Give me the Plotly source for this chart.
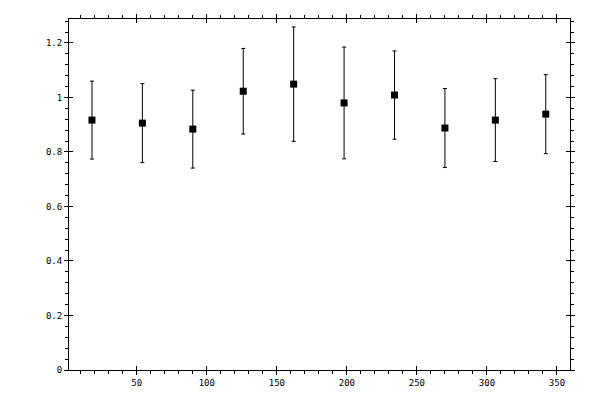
import plotly.graph_objects as go

# bin centres (deg) and measured ratio with symmetric errors
bin_centers = [18, 54, 90, 126, 162, 198, 234, 270, 306, 342]
ratio = [0.917, 0.906, 0.884, 1.023, 1.049, 0.980, 1.009, 0.888, 0.917, 0.939]
ratio_err = [0.143, 0.145, 0.143, 0.157, 0.210, 0.205, 0.162, 0.145, 0.152, 0.145]

X_RANGE = [1.6, 359.3]
Y_RANGE = [0, 1.288]
FONT = dict(family='DejaVu Sans Mono', size=9, color='black')

fig = go.Figure()
fig.add_trace(go.Scatter(
    x=bin_centers, y=ratio,
    mode='markers',
    marker=dict(symbol='square', size=7, color='black'),
    error_y=dict(type='data', array=ratio_err, color='black', thickness=1, width=2),
    showlegend=False,
))

# main axes: labels + outer half of ticks
axis_common = dict(
    showline=True, linecolor='black', linewidth=1, mirror='ticks',
    ticks='outside', ticklen=4, tickcolor='black', tickwidth=1,
    showgrid=False, zeroline=False, tickfont=FONT, automargin=False,
)
fig.update_xaxes(
    range=X_RANGE, tick0=0, dtick=50,
    minor=dict(ticks='outside', ticklen=3, tick0=0, dtick=10, tickcolor='black', showgrid=False),
    **axis_common,
)
fig.update_yaxes(
    range=Y_RANGE, tick0=0, dtick=0.2, tickformat='~g',
    minor=dict(ticks='outside', ticklen=3, tick0=0, dtick=0.04, tickcolor='black', showgrid=False),
    **axis_common,
)

# overlay axes: inner half of the major ticks
inner = dict(showline=False, showgrid=False, zeroline=False, showticklabels=False,
             ticks='inside', ticklen=4, tickcolor='black', tickwidth=1, mirror='ticks',
             automargin=False)
fig.update_layout(
    xaxis2=dict(overlaying='x', anchor='y', side='bottom', range=X_RANGE, tick0=0, dtick=50, **inner),
    yaxis2=dict(overlaying='y', anchor='x', side='left', range=Y_RANGE, tick0=0, dtick=0.2, **inner),
)
fig.add_trace(go.Scatter(x=[], y=[], xaxis='x2', yaxis='y2', showlegend=False, hoverinfo='skip'))

# page body has an 8px margin, so the figure is 584x384 inside the 600x400 window
fig.update_layout(
    width=584, height=384,
    margin=dict(l=61, r=22, t=11, b=22),
    paper_bgcolor='white', plot_bgcolor='white',
)

fig.write_html('out.html')
